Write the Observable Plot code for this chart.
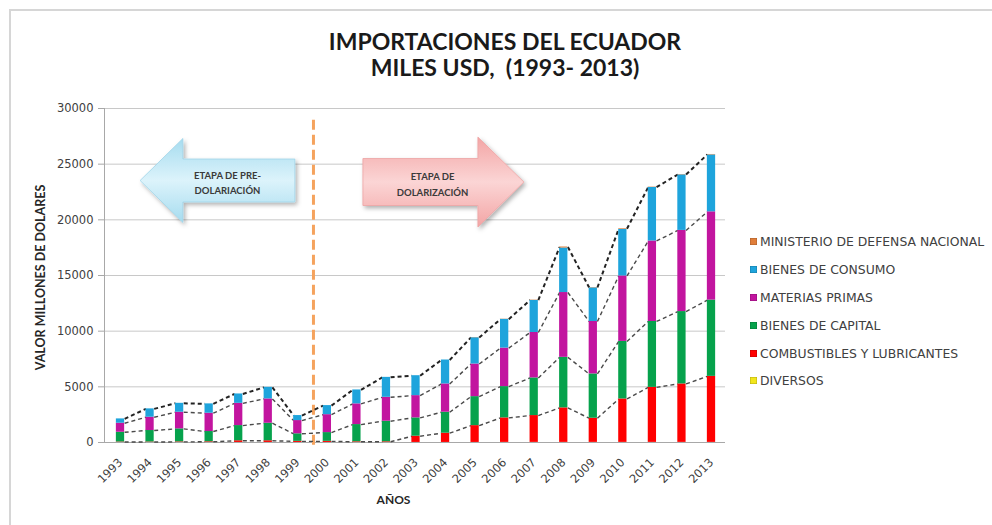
<!DOCTYPE html>
<html><head><meta charset="utf-8">
<script src="https://cdn.jsdelivr.net/npm/d3@7"></script>
<script src="https://cdn.jsdelivr.net/npm/@observablehq/plot@0.6"></script>
<style>
body{margin:0;background:#fff;}
#wrap{position:relative;width:992px;height:525px;overflow:hidden;background:#fff;}
#frame{position:absolute;left:9px;top:9px;width:1100px;height:600px;border-left:2px solid #d6d6d6;border-top:2px solid #d6d6d6;box-sizing:border-box;}
#title{position:absolute;left:0;top:29px;width:1010px;text-align:center;font-family:Lato;font-weight:700;font-size:23px;line-height:25.6px;color:#1a1a1a;white-space:pre;}
#chart{position:absolute;left:0;top:92px;}
#legend{position:absolute;left:750px;top:228px;font-family:"DejaVu Sans";font-size:12.4px;color:#404040;}
#legend .row{height:27.8px;display:flex;align-items:center;white-space:nowrap;}
#legend .sw{width:7px;height:7px;margin-right:3px;box-shadow:inset 0 0 0 0.5px rgba(0,0,0,0.25);}
</style></head>
<body>
<div id="wrap">
  <div id="frame"></div>
  <div id="title">IMPORTACIONES DEL ECUADOR
MILES USD,  (1993- 2013)</div>
  <div id="chart"></div>
  <div id="legend"></div>
</div>
<script>
// ---- data (millones USD) ----
const years = [1993,1994,1995,1996,1997,1998,1999,2000,2001,2002,2003,2004,2005,2006,2007,2008,2009,2010,2011,2012,2013];
const diversos     = [5,5,5,5,5,5,5,5,5,5,5,5,5,10,10,10,10,10,10,10,10];
const combustibles = [40,40,50,60,150,150,100,100,60,60,560,830,1510,2200,2410,3100,2170,3900,4940,5250,5930];
const capital      = [875,1030,1170,920,1365,1575,675,785,1545,1845,1645,1885,2605,2810,3380,4540,3980,5170,5920,6500,6850];
const materias     = [810,1195,1495,1645,2000,2185,1190,1610,1860,2150,2000,2540,2930,3460,4080,5820,4710,5880,7230,7290,7930];
const consumo      = [390,750,800,840,840,1040,450,815,1250,1790,1790,2150,2360,2580,2880,4000,3020,4180,4810,4990,5110];
const ministerio   = [0,0,0,0,0,0,0,0,0,0,0,0,20,20,30,90,30,60,30,30,40];
const yTicks = [0,5000,10000,15000,20000,25000,30000];

const seriesNames = ["DIVERSOS","COMBUSTIBLES Y LUBRICANTES","BIENES DE CAPITAL","MATERIAS PRIMAS","BIENES DE CONSUMO","MINISTERIO DE DEFENSA NACIONAL"];
const seriesValues = [diversos, combustibles, capital, materias, consumo, ministerio];
const seriesColors = ["#f2e61c","#ff0000","#06a24c","#c2159f","#1ea4dc","#e07e3a"];

// annotations (data units)
const divider = 1999.53, dividerTop = 29370;
const preArrow = {tipX:1993.68, headX:1995.13, endX:1998.92, yMid:23490, bodyHalf:1930, headHalf:3770,
                  label:"ETAPA DE PRE-\nDOLARIACIÓN", labelX:1996.62, labelY:23400};
const postArrow = {startX:2001.22, headX:2005.11, tipX:2006.67, yMid:23350, bodyHalf:2110, headHalf:4040,
                  label:"ETAPA DE\nDOLARIZACIÓN", labelX:2003.56, labelY:23300};
const yLabel = "VALOR MILLONES DE DOLARES", xLabel = "AÑOS";

// ---- derived tables ----
const hw = 0.14;
const xDomain = [1992.4585, 2013.4738];
const stacked = [];
const levels = [[],[],[],[]]; // top of red, green, magenta, total
years.forEach((yr, i) => {
  let cum = 0;
  seriesValues.forEach((vals, s) => {
    const v = vals[i];
    stacked.push({year: yr, x1: yr - hw, x2: yr + hw, y1: cum, y2: cum + v, fill: seriesColors[s]});
    cum += v;
    if (s === 1) levels[0].push(cum);
    if (s === 2) levels[1].push(cum);
    if (s === 3) levels[2].push(cum);
  });
  levels[3].push(cum);
});
const innerLinks = [], topLinks = [];
levels.forEach((lv, l) => {
  for (let i = 0; i < years.length - 1; i++) {
    const d = {x1: years[i] + hw, y1: lv[i], x2: years[i+1] - hw, y2: lv[i+1]};
    (l === 3 ? topLinks : innerLinks).push(d);
  }
});
const a1 = preArrow, a2 = postArrow;
const leftArrowPts = [
  [a1.tipX, a1.yMid], [a1.headX, a1.yMid + a1.headHalf], [a1.headX, a1.yMid + a1.bodyHalf],
  [a1.endX, a1.yMid + a1.bodyHalf], [a1.endX, a1.yMid - a1.bodyHalf], [a1.headX, a1.yMid - a1.bodyHalf],
  [a1.headX, a1.yMid - a1.headHalf]
];
const rightArrowPts = [
  [a2.startX, a2.yMid + a2.bodyHalf], [a2.headX, a2.yMid + a2.bodyHalf], [a2.headX, a2.yMid + a2.headHalf],
  [a2.tipX, a2.yMid], [a2.headX, a2.yMid - a2.headHalf], [a2.headX, a2.yMid - a2.bodyHalf],
  [a2.startX, a2.yMid - a2.bodyHalf]
];

const plot = Plot.plot({
  width: 992, height: 433,
  marginLeft: 104, marginRight: 267, marginTop: 16, marginBottom: 83,
  x: {domain: xDomain, ticks: years, tickFormat: d => String(d), tickRotate: -45, tickSize: 0, tickPadding: 18, label: null},
  y: {domain: [0, 30000], ticks: yTicks, tickFormat: d3.format("d"), tickSize: 6, tickPadding: 5, label: null},
  style: {fontFamily: "DejaVu Sans", fontSize: "11.5px", color: "#404040", background: "transparent", overflow: "visible"},
  marks: [
    Plot.ruleY(yTicks.filter(v => v > 0), {stroke: "#c8c8c8", strokeWidth: 1}),
    Plot.ruleY([0], {stroke: "#a8a8a8"}),
    Plot.ruleX([xDomain[0]], {y1: 0, y2: yTicks[yTicks.length-1], stroke: "#a8a8a8"}),
    Plot.text([preArrow, postArrow], {x: "labelX", y: "labelY", text: "label", fontFamily: "Lato", fontWeight: 700, fontSize: 9.5, lineHeight: 1.6, fill: "#3a3a3a"}),
    Plot.ruleX([divider], {y1: -250, y2: dividerTop, stroke: "#f5a35e", strokeWidth: 3, strokeDasharray: "10,5"}),
    Plot.link(innerLinks, {x1: "x1", y1: "y1", x2: "x2", y2: "y2", stroke: "#4a4a4a", strokeWidth: 1.4, strokeDasharray: "4,3"}),
    Plot.link(topLinks, {x1: "x1", y1: "y1", x2: "x2", y2: "y2", stroke: "#222", strokeWidth: 2, strokeDasharray: "4,3"}),
    Plot.rect(stacked, {x1: "x1", x2: "x2", y1: "y1", y2: "y2", fill: "fill"}),
    Plot.text([yLabel], {frameAnchor: "left", textAnchor: "middle", dx: -64, dy: 2, rotate: -90, fontFamily: "Lato", fontWeight: 700, fontSize: 12.5, fill: "#262626"}),
    Plot.text([xLabel], {frameAnchor: "bottom", dx: -21.5, dy: 61, fontFamily: "Lato", fontWeight: 700, fontSize: 12, fill: "#262626"})
  ]
});

const svg = d3.select(plot);
const defs = svg.insert("defs", ":first-child");
const gb = defs.append("linearGradient").attr("id", "gBlue").attr("x1", 0).attr("x2", 0).attr("y1", 0).attr("y2", 1);
gb.append("stop").attr("offset", "0%").attr("stop-color", "#a6dcef");
gb.append("stop").attr("offset", "50%").attr("stop-color", "#dcf3fb");
gb.append("stop").attr("offset", "100%").attr("stop-color", "#a6dcef");
const gp = defs.append("linearGradient").attr("id", "gPink").attr("x1", 0).attr("x2", 0).attr("y1", 0).attr("y2", 1);
gp.append("stop").attr("offset", "0%").attr("stop-color", "#f3a5a5");
gp.append("stop").attr("offset", "50%").attr("stop-color", "#fbd5d5");
gp.append("stop").attr("offset", "100%").attr("stop-color", "#f3a5a5");
const f = defs.append("filter").attr("id", "sh").attr("x", "-20%").attr("y", "-20%").attr("width", "150%").attr("height", "150%");
f.append("feDropShadow").attr("dx", 2).attr("dy", 2.5).attr("stdDeviation", 2).attr("flood-color", "#000").attr("flood-opacity", 0.3);

// arrows drawn through the plot's own x/y scales
const sx = plot.scale("x"), sy = plot.scale("y");
const toPath = pts => "M" + pts.map(([x, y]) => `${sx.apply(x).toFixed(1)},${sy.apply(y).toFixed(1)}`).join("L") + "Z";
const arrowG = svg.append("g").attr("aria-label", "arrows");
arrowG.append("path").attr("d", toPath(leftArrowPts)).attr("fill", "url(#gBlue)").attr("stroke", "#9fd4e8").attr("stroke-width", 0.8).attr("filter", "url(#sh)");
arrowG.append("path").attr("d", toPath(rightArrowPts)).attr("fill", "url(#gPink)").attr("stroke", "#eea3a3").attr("stroke-width", 0.8).attr("filter", "url(#sh)");
// bring the arrow labels back on top of the arrows
svg.selectAll("text").filter(function() { return this.textContent.includes("ETAPA"); }).each(function() {
  const g = this.parentNode;
  if (g && g.parentNode) g.parentNode.appendChild(g);
});
svg.selectAll('g[aria-label="y-axis tick"] path').attr("stroke", "#a8a8a8");

document.getElementById("chart").appendChild(plot);

// legend (top to bottom reversed stack order)
const legend = d3.select("#legend");
seriesNames.map((n, i) => ({n, c: seriesColors[i]})).reverse().forEach(d => {
  const row = legend.append("div").attr("class", "row");
  row.append("div").attr("class", "sw").style("background", d.c);
  row.append("span").text(d.n);
});
</script>
</body></html>
